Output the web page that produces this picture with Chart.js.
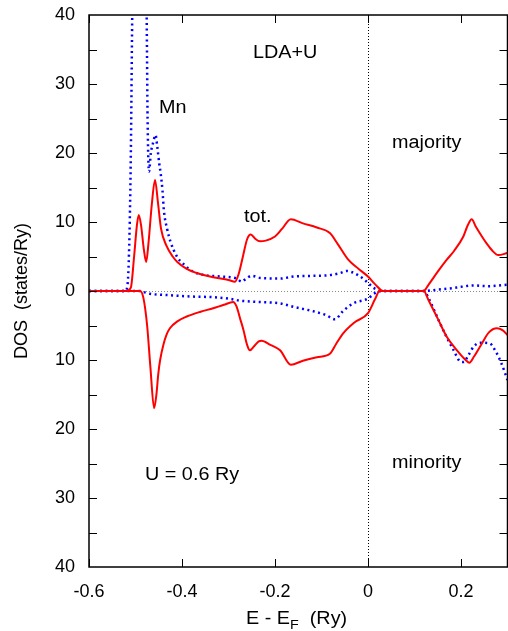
<!DOCTYPE html>
<html>
<head>
<meta charset="utf-8">
<script src="https://cdn.jsdelivr.net/npm/chart.js@4"></script>
<style>
  html, body { margin: 0; padding: 0; background: #fff; }
  #wrap { width: 508px; height: 631px; }
</style>
</head>
<body>
<div id="wrap"><canvas id="dos-chart" width="508" height="631"></canvas></div>
<script>
// Tick positions
const xTicks = [-0.6, -0.4, -0.2, 0, 0.2];
const xTickLabels = ['-0.6', '-0.4', '-0.2', '0', '0.2'];
const yTicks = [-40, -30, -20, -10, 0, 10, 20, 30, 40];
const yTickLabels = ['40', '30', '20', '10', '0', '10', '20', '30', '40'];

// Total DOS, majority spin (E in Ry, DOS in states/Ry)
const totUpE = [-0.6, -0.52, -0.51, -0.503, -0.497, -0.493, -0.488, -0.482, -0.477, -0.472, -0.465, -0.458, -0.452, -0.445, -0.433, -0.42, -0.41, -0.39, -0.368, -0.333, -0.3, -0.286, -0.278, -0.269, -0.26, -0.252, -0.243, -0.232, -0.22, -0.2, -0.185, -0.166, -0.14, -0.11, -0.082, -0.065, -0.042, -0.02, 0.0, 0.015, 0.033, 0.119, 0.13, 0.15, 0.169, 0.185, 0.205, 0.215, 0.223, 0.232, 0.245, 0.255, 0.268, 0.28, 0.3];
const totUpDos = [0, 0, 0.5, 5, 9.5, 11.0, 9.5, 6, 4.2, 7, 12.5, 16.1, 13, 9, 6.5, 5.0, 4.2, 3.2, 2.6, 2.0, 1.6, 1.35, 2.5, 5.0, 7.5, 8.2, 7.6, 7.2, 7.3, 7.9, 9.0, 10.4, 9.8, 9.2, 8.4, 6.8, 4.5, 3.2, 2.1, 1.0, 0, 0, 0.9, 2.8, 4.5, 5.8, 7.9, 9.6, 10.4, 9.3, 7.9, 6.9, 5.8, 5.2, 5.5];

// Total DOS, minority spin (drawn downwards)
const totDnE = [-0.6, -0.49, -0.483, -0.475, -0.468, -0.46, -0.455, -0.451, -0.447, -0.44, -0.433, -0.426, -0.41, -0.39, -0.36, -0.333, -0.31, -0.29, -0.283, -0.275, -0.268, -0.26, -0.254, -0.245, -0.235, -0.229, -0.21, -0.189, -0.166, -0.14, -0.11, -0.082, -0.068, -0.053, -0.03, 0.0, 0.015, 0.025, 0.12, 0.13, 0.15, 0.169, 0.19, 0.21, 0.218, 0.228, 0.245, 0.26, 0.277, 0.29, 0.3];
const totDnDos = [0, 0, -1, -5, -11, -17.0, -15, -12, -10, -7.8, -6.3, -5.4, -4.4, -3.7, -3.0, -2.5, -2.0, -1.6, -2.2, -4, -5.6, -7.8, -8.6, -8.0, -7.3, -7.2, -7.8, -8.6, -10.7, -10.1, -9.6, -9.1, -7.6, -6.1, -4.6, -3.2, -1.2, 0, 0, -1.3, -4.0, -6.6, -8.5, -10.0, -10.4, -9.5, -7.6, -6.0, -5.4, -5.7, -6.4];

// Mn partial DOS, majority spin
const mnUpE = [-0.6, -0.522, -0.517, -0.513, -0.51, -0.507, -0.5, -0.49, -0.48, -0.476, -0.474, -0.471, -0.467, -0.462, -0.457, -0.453, -0.449, -0.446, -0.442, -0.439, -0.432, -0.425, -0.411, -0.395, -0.376, -0.35, -0.318, -0.282, -0.272, -0.262, -0.25, -0.232, -0.189, -0.16, -0.12, -0.082, -0.06, -0.046, -0.03, -0.017, 0.0, 0.011, 0.033, 0.12, 0.15, 0.18, 0.2, 0.227, 0.26, 0.28, 0.3];
const mnUpDos = [0, 0, 1, 8, 20, 40, 75, 80, 60, 40, 25, 17.3, 20.0, 21.5, 22.6, 20.8, 18.5, 17.1, 14.6, 11.7, 9.0, 7.2, 5.0, 3.8, 2.8, 2.3, 2.1, 1.8, 1.35, 1.8, 2.2, 1.9, 1.8, 2.1, 2.2, 2.3, 2.6, 2.9, 2.6, 2.1, 1.2, 0.5, 0, 0, 0.2, 0.4, 0.6, 0.8, 0.7, 0.8, 0.9];

// Mn partial DOS, minority spin
const mnDnE = [-0.6, -0.49, -0.48, -0.469, -0.43, -0.38, -0.333, -0.3, -0.275, -0.232, -0.189, -0.16, -0.12, -0.09, -0.071, -0.055, -0.032, 0.0, 0.015, 0.03, 0.12, 0.13, 0.145, 0.155, 0.17, 0.185, 0.198, 0.206, 0.215, 0.228, 0.241, 0.262, 0.275, 0.287, 0.3];
const mnDnDos = [0, 0, -0.2, -0.4, -0.6, -0.8, -0.9, -1.1, -1.4, -1.6, -1.8, -2.3, -2.9, -3.5, -4.1, -3.0, -1.8, -1.1, -0.3, 0, 0, -1.0, -3.2, -4.7, -6.8, -8.7, -10.2, -10.3, -9.4, -8.0, -7.5, -7.6, -8.8, -10.5, -12.9];

const FONT = "'Liberation Sans', Arial, sans-serif";

function pairs(xs, ys) {
    return xs.map((x, i) => ({ x: x, y: ys[i] }));
}

function solid(data) {
    return {
        data: data,
        borderColor: 'rgb(255, 0, 0)',
        borderWidth: 2,
        pointRadius: 0,
        cubicInterpolationMode: 'monotone',
        order: 1
    };
}

function dotted(data) {
    return {
        data: data,
        borderColor: 'rgb(0, 0, 255)',
        borderWidth: 2.5,
        borderDash: [2, 3.5],
        pointRadius: 0,
        cubicInterpolationMode: 'monotone',
        order: 2
    };
}

// frame, inward ticks, zero lines and in-plot labels
const framePlugin = {
    id: 'frame',
    beforeDatasetsDraw(chart) {
        const ctx = chart.ctx;
        const a = chart.chartArea;
        const x0 = chart.scales.x.getPixelForValue(0);
        const y0 = chart.scales.y.getPixelForValue(0);
        ctx.save();
        ctx.lineWidth = 1;
        ctx.setLineDash([1, 2]);
        ctx.strokeStyle = '#888';
        ctx.beginPath();
        ctx.moveTo(a.left, Math.round(y0) + 0.5);
        ctx.lineTo(a.right, Math.round(y0) + 0.5);
        ctx.stroke();
        ctx.strokeStyle = '#000';
        ctx.beginPath();
        ctx.moveTo(Math.round(x0) + 0.5, a.top);
        ctx.lineTo(Math.round(x0) + 0.5, a.bottom);
        ctx.stroke();
        ctx.restore();
    },
    afterDraw(chart) {
        const ctx = chart.ctx;
        const a = chart.chartArea;
        const xs = chart.scales.x;
        const ys = chart.scales.y;
        ctx.save();
        ctx.strokeStyle = '#000';
        ctx.lineWidth = 1.5;
        ctx.strokeRect(a.left, a.top, a.right - a.left, a.bottom - a.top);

        const len = 8;
        ctx.lineWidth = 1;
        ctx.beginPath();
        xTicks.forEach(v => {
            const px = Math.round(xs.getPixelForValue(v)) + 0.5;
            ctx.moveTo(px, a.bottom); ctx.lineTo(px, a.bottom - len);
            ctx.moveTo(px, a.top); ctx.lineTo(px, a.top + len);
        });
        for (let v = -35; v <= 35; v += 5) {
            const py = Math.round(ys.getPixelForValue(v)) + 0.5;
            ctx.moveTo(a.left, py); ctx.lineTo(a.left + len, py);
            ctx.moveTo(a.right, py); ctx.lineTo(a.right - len, py);
        }
        ctx.stroke();

        ctx.fillStyle = '#000';
        ctx.font = '18px ' + FONT;
        ctx.textAlign = 'left';
        ctx.textBaseline = 'alphabetic';
        const label = (t, x, y) => {
            ctx.save();
            ctx.translate(x, y);
            ctx.scale(1.1, 1);
            ctx.fillText(t, 0, 0);
            ctx.restore();
        };
        label('LDA+U', 253, 58);
        label('Mn', 159, 113);
        label('majority', 392, 148);
        label('tot.', 244, 222);
        label('U = 0.6 Ry', 145, 480);
        label('minority', 392, 468);

        // axis titles
        ctx.save();
        ctx.translate(27, 291);
        ctx.rotate(-Math.PI / 2);
        ctx.textAlign = 'center';
        ctx.fillText('DOS  (states/Ry)', 0, 0);
        ctx.restore();

        let x = 246;
        const base = 624;
        const part = (t, size, dy) => {
            ctx.font = size + 'px ' + FONT;
            ctx.save();
            ctx.translate(x, base + dy);
            ctx.scale(1.1, 1);
            ctx.fillText(t, 0, 0);
            ctx.restore();
            x += ctx.measureText(t).width * 1.1;
        };
        part('E - E', 18, 0);
        part('F', 13, 5);
        part('  (Ry)', 18, 0);
        ctx.restore();
    }
};

new Chart(document.getElementById('dos-chart').getContext('2d'), {
    type: 'line',
    data: {
        datasets: [
            solid(pairs(totUpE, totUpDos)),
            solid(pairs(totDnE, totDnDos)),
            dotted(pairs(mnUpE, mnUpDos)),
            dotted(pairs(mnDnE, mnDnDos))
        ]
    },
    options: {
        responsive: false,
        animation: false,
        layout: { padding: { top: 15, right: 0.5, left: 0, bottom: 0 } },
        plugins: {
            legend: { display: false },
            tooltip: { enabled: false }
        },
        scales: {
            x: {
                type: 'linear',
                min: -0.6,
                max: 0.3,
                afterBuildTicks: scale => { scale.ticks = xTicks.map(v => ({ value: v })); },
                afterFit: scale => {
                    scale.height = 64;
                    scale.paddingLeft = 0;
                    scale.paddingRight = 0;
                },
                grid: { display: false, drawTicks: false },
                border: { display: false },
                ticks: {
                    padding: 14,
                    color: '#000',
                    font: { family: FONT, size: 18 },
                    maxRotation: 0,
                    callback: (v) => xTickLabels[xTicks.indexOf(v)]
                }
            },
            y: {
                type: 'linear',
                min: -40,
                max: 40,
                afterBuildTicks: scale => { scale.ticks = yTicks.map(v => ({ value: v })); },
                afterFit: scale => {
                    scale.width = 89;
                    scale.paddingTop = 0;
                    scale.paddingBottom = 0;
                },
                grid: { display: false, drawTicks: false },
                border: { display: false },
                ticks: {
                    padding: 14,
                    color: '#000',
                    font: { family: FONT, size: 18 },
                    callback: (v) => yTickLabels[yTicks.indexOf(v)]
                }
            }
        }
    },
    plugins: [framePlugin]
});
</script>
</body>
</html>
